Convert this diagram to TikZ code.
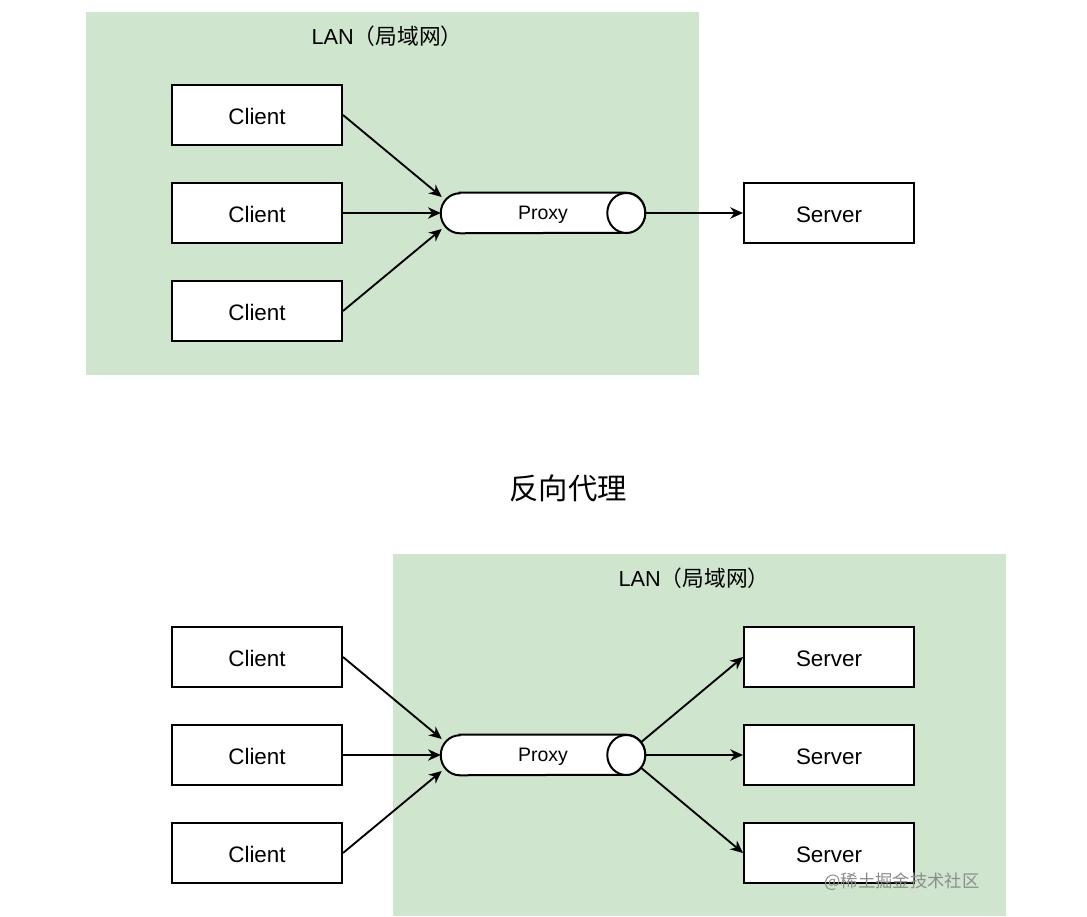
\documentclass[tikz,border=0pt]{standalone}
\usepackage{fontspec}
\setmainfont{Liberation Sans}
\newfontfamily\cjk{Noto Sans CJK SC}
\usetikzlibrary{arrows.meta,calc}
\definecolor{langreen}{RGB}{207,229,205}
\begin{document}
\begin{tikzpicture}[x=0.75pt,y=-0.75pt,
  box/.style={draw=black,line width=1.5pt,fill=white,minimum width=127.5pt,minimum height=45pt,inner sep=0pt,font=\fontsize{16.8}{20}\selectfont},
  proxybox/.style={minimum width=153pt,minimum height=30pt,inner sep=0pt,font=\fontsize{14.6}{17}\selectfont},
  conn/.style={line width=1.4pt,-{Stealth[length=9.5pt,width=8.5pt,inset=3pt]}},
  cyl/.style={line width=1.5pt,fill=white},
  lan/.style={font=\fontsize{16.3}{19}\selectfont},
  lbl/.style={yshift=-1.2pt},
]
\useasboundingbox (0,0) rectangle (1087,916);
% top LAN
\fill[langreen] (86,12) rectangle (699,375);
\node[lan] (lan1) at (387,36) {LAN{\cjk（局域网）}};
\node[box] (c1) at (257,115) {};
\node[box] (c2) at (257,213) {};
\node[box] (c3) at (257,311) {};
\node[box,draw=none,fill=none,lbl] at (c1) {Client};
\node[box,draw=none,fill=none,lbl] at (c2) {Client};
\node[box,draw=none,fill=none,lbl] at (c3) {Client};
\node[proxybox] (p1) at (543,213) {};
\draw[cyl] ([xshift=14.25pt]p1.north west) -- ([xshift=-14.25pt]p1.north east)
  arc[start angle=90,end angle=-90,x radius=14.25pt,y radius=15pt]
  -- ([xshift=14.25pt]p1.south west)
  arc[start angle=270,end angle=90,x radius=14.25pt,y radius=15pt] -- cycle;
\draw[cyl] ([xshift=-14.25pt]p1.east) ellipse[x radius=14.25pt,y radius=15pt];
\node[proxybox,lbl] at (p1) {Proxy};
\node[box] (s1) at (829,213) {};
\node[box,draw=none,fill=none,lbl] at (s1) {Server};
\draw[conn] (c1.east) -- ($(p1.west)+(1,-16)$);
\draw[conn] (c2.east) -- (p1.west);
\draw[conn] (c3.east) -- ($(p1.west)+(1,16)$);
\draw[conn] (p1.east) -- (s1.west);
% title
\node[font=\cjk\fontsize{22}{26}\selectfont] (title) at (568,488) {反向代理};
% bottom LAN
\fill[langreen] (393,554) rectangle (1006,916);
\node[lan] (lan2) at (694,578) {LAN{\cjk（局域网）}};
\node[box] (d1) at (257,657) {};
\node[box] (d2) at (257,755) {};
\node[box] (d3) at (257,853) {};
\node[box,draw=none,fill=none,lbl] at (d1) {Client};
\node[box,draw=none,fill=none,lbl] at (d2) {Client};
\node[box,draw=none,fill=none,lbl] at (d3) {Client};
\node[proxybox] (p2) at (543,755) {};
\draw[cyl] ([xshift=14.25pt]p2.north west) -- ([xshift=-14.25pt]p2.north east)
  arc[start angle=90,end angle=-90,x radius=14.25pt,y radius=15pt]
  -- ([xshift=14.25pt]p2.south west)
  arc[start angle=270,end angle=90,x radius=14.25pt,y radius=15pt] -- cycle;
\draw[cyl] ([xshift=-14.25pt]p2.east) ellipse[x radius=14.25pt,y radius=15pt];
\node[proxybox,lbl] at (p2) {Proxy};
\node[box] (t1) at (829,657) {};
\node[box] (t2) at (829,755) {};
\node[box] (t3) at (829,853) {};
\node[box,draw=none,fill=none,lbl] at (t1) {Server};
\node[box,draw=none,fill=none,lbl] at (t2) {Server};
\node[box,draw=none,fill=none,lbl] at (t3) {Server};
\draw[conn] (d1.east) -- ($(p2.west)+(1,-16)$);
\draw[conn] (d2.east) -- (p2.west);
\draw[conn] (d3.east) -- ($(p2.west)+(1,16)$);
\draw[conn] ($(p2.east)+(-4,-13)$) -- (t1.west);
\draw[conn] (p2.east) -- (t2.west);
\draw[conn] ($(p2.east)+(-4,13)$) -- (t3.west);
\node[font=\cjk\fontsize{13}{16}\selectfont,text=black!45] (wm) at (902,882) {@稀土掘金技术社区};
\end{tikzpicture}
\end{document}
